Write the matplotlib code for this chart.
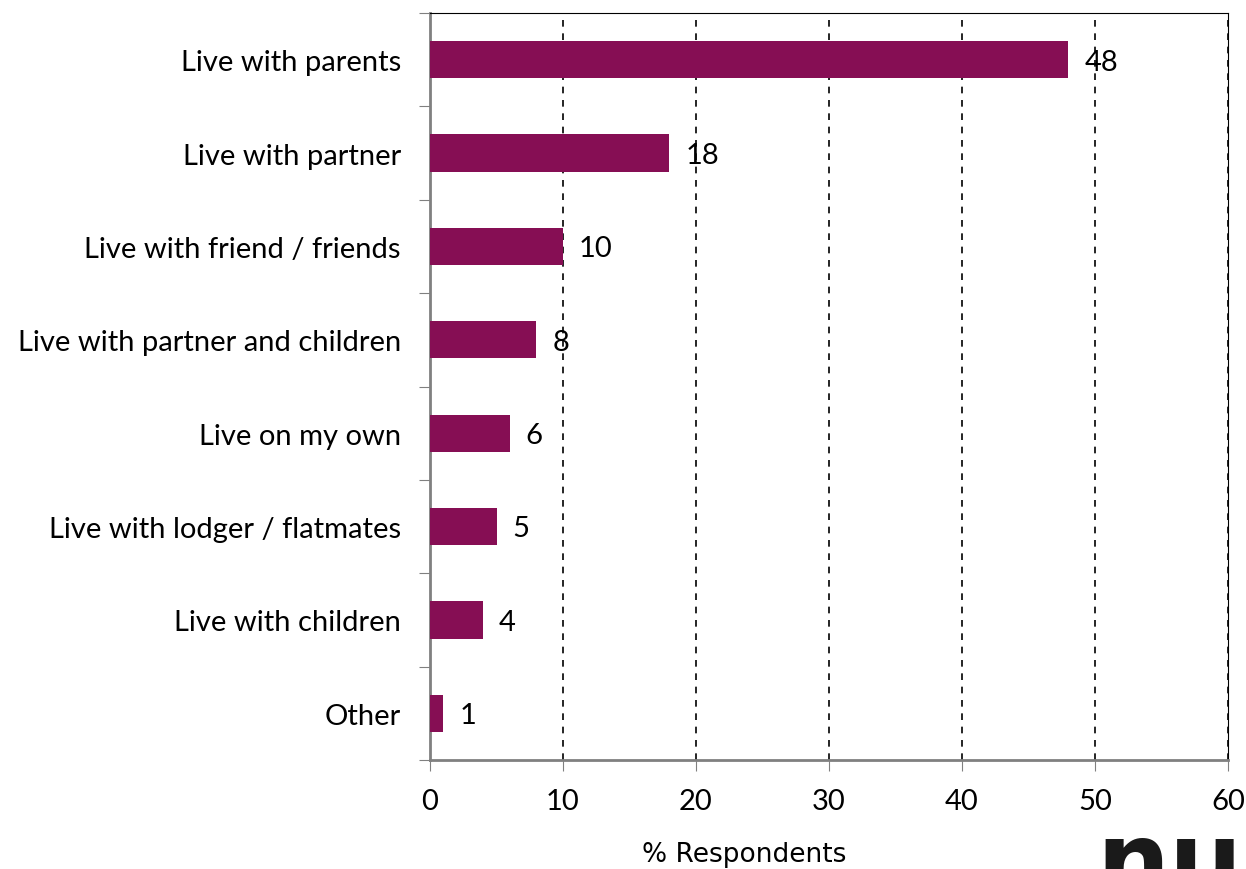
import numpy as np
import matplotlib.pyplot as plt

# living arrangement survey
categories = ['Live with parents', 'Live with partner', 'Live with friend / friends',
              'Live with partner and children', 'Live on my own',
              'Live with lodger / flatmates', 'Live with children', 'Other']
values = [48, 18, 10, 8, 6, 5, 4, 1]
xticks = [0, 10, 20, 30, 40, 50, 60]

bar_color = '#860E54'
plt.rcParams['font.family'] = ['Lato', 'DejaVu Sans']
fs = 21

fig = plt.figure(figsize=(12.46, 8.7), dpi=100)
ax = fig.add_axes([430 / 1246, 1 - 761 / 870, 798 / 1246, 747 / 870])

n = len(categories)
ypos = np.arange(n)
ax.barh(ypos, values, height=0.4, color=bar_color, zorder=3)
for y, v in zip(ypos, values):
    ax.text(v + 1.2, y + 0.02, str(v), va='center', ha='left', fontsize=fs, zorder=4)

ax.set_ylim(n - 0.5, -0.5)
ax.set_xlim(0, 60)
ax.set_xticks(xticks)
ax.set_xticklabels([str(t) for t in xticks], fontsize=fs)
ax.tick_params(axis='x', length=8, color='#808080', pad=12)

# category ticks between bars, labels at bar centers
ax.set_yticks(np.arange(-0.5, n, 1.0))
ax.set_yticklabels([])
ax.set_yticks(ypos, minor=True)
ax.set_yticklabels(categories, minor=True, fontsize=fs)
ax.tick_params(axis='y', which='major', length=8, color='#808080')
ax.tick_params(axis='y', which='minor', length=0, pad=21)

ax.grid(axis='x', color='black', linestyle=(0, (4, 4)), linewidth=1.2, zorder=1)
ax.spines['left'].set_color('#808080')
ax.spines['bottom'].set_color('#808080')
ax.spines['left'].set_linewidth(2)
ax.spines['bottom'].set_linewidth(2)
ax.spines['top'].set_color('black')
ax.spines['right'].set_color('black')

fig.text(744 / 1246, 1 - 855 / 870, '% Respondents', fontsize=19, family='DejaVu Sans',
         ha='center', va='center')

# logo fragment in corner
fig.text(1096 / 1246, -0.055, 'nu', fontsize=74, fontweight='bold', color='#1a1a1a',
         family='DejaVu Sans', ha='left', va='bottom')

fig.savefig('out.png', dpi=100)
